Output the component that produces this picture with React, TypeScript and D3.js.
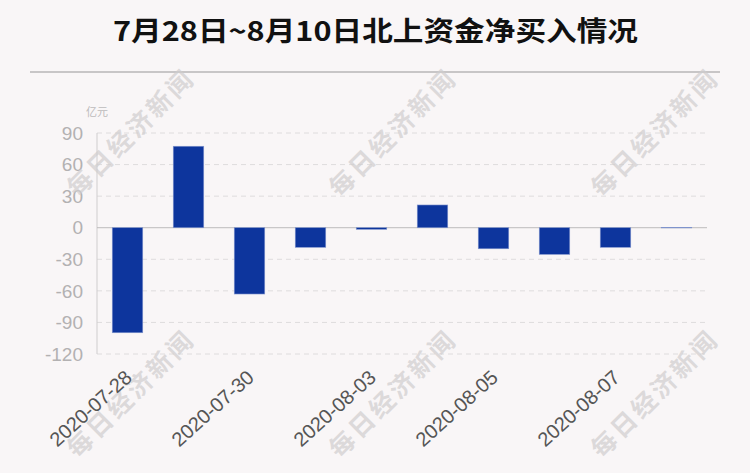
import React from "react";
import * as d3 from "d3";

const categories = [
  "2020-07-28", "2020-07-29", "2020-07-30", "2020-07-31", "2020-08-03",
  "2020-08-04", "2020-08-05", "2020-08-06", "2020-08-07", "2020-08-10",
];
const values = [-99.8, 77.4, -63.0, -18.6, -1.5, 21.6, -20.0, -25.3, -18.6, 0.3];
const yTicks = [90, 60, 30, 0, -30, -60, -90, -120];
const shownLabels = ["2020-07-28", "2020-07-30", "2020-08-03", "2020-08-05", "2020-08-07"];
const title = "7月28日~8月10日北上资金净买入情况";
const unit = "亿元";
const watermark = "每日经济新闻";
const wmX = [131, 393, 655];
const wmY = [133, 394];

const W = 750;
const H = 473;
const left = 97;
const right = 707;
const top = 133;
const bottom = 354;

export default function App() {
  const x = d3.scaleBand<string>().domain(categories).range([left, right]).paddingInner(0).paddingOuter(0);
  const y = d3.scaleLinear().domain([-120, 90]).range([bottom, top]);
  const bw = x.bandwidth() * 0.5;
  const font = "'Liberation Sans', Arial, sans-serif";
  const cjk = "'Noto Sans CJK SC', sans-serif";

  return (
    <svg width={W} height={H} style={{ position: "fixed", left: 0, top: 0, background: "#f9f6f7" }}>
      <rect x={0} y={0} width={W} height={H} fill="#f9f6f7" />
      <text x={375.5} y={41} textAnchor="middle" fontFamily={cjk} fontWeight={700} fontSize={27}
        textLength={525} lengthAdjust="spacingAndGlyphs" fill="#111">{title}</text>
      <line x1={30} x2={720} y1={72} y2={72} stroke="#c8c6c7" strokeWidth={2} />

      {/* gridlines */}
      {yTicks.filter(t => t !== 0).map(t => (
        <line key={"g" + t} x1={left} x2={right} y1={y(t)} y2={y(t)} stroke="#dedcdd" strokeWidth={1} strokeDasharray="5,4" />
      ))}
      <line x1={left} x2={left} y1={top} y2={bottom} stroke="#cfcdce" strokeWidth={1} />
      <line x1={left} x2={right} y1={y(0)} y2={y(0)} stroke="#bdbbbc" strokeWidth={1} />

      {/* y labels */}
      {yTicks.map(t => (
        <text key={"t" + t} x={83} y={y(t)} dy="0.35em" textAnchor="end" fontFamily={font} fontSize={19} fill="#b3b1b2">{t}</text>
      ))}
      <text x={97} y={112} dy="0.35em" textAnchor="middle" fontFamily={cjk} fontSize={11} fill="#bdbbbc">{unit}</text>

      {/* watermarks */}
      {wmX.flatMap(wx => wmY.map(wy => (
        <text key={`w${wx}-${wy}`} x={wx} y={wy} dy="0.35em" textAnchor="middle" fontFamily={cjk} fontWeight={700}
          fontSize={25} letterSpacing={3} fill="#cfcdce" fillOpacity={0.7} transform={`rotate(-45 ${wx} ${wy})`}>{watermark}</text>
      )))}

      {/* bars */}
      {categories.map((c, i) => {
        const v = values[i];
        const x0 = (x(c) as number) + (x.bandwidth() - bw) / 2;
        const y0 = Math.min(y(0), y(v));
        const h = Math.max(Math.abs(y(v) - y(0)), 0.5);
        return <rect key={c} x={x0} y={y0} width={bw} height={h} fill="#0d359d" stroke="#7f93cc" strokeWidth={0.6} />;
      })}

      {/* x labels */}
      {shownLabels.map(c => {
        const cx = (x(c) as number) + x.bandwidth() / 2 + 1;
        const cy = 374;
        return (
          <text key={"x" + c} x={cx} y={cy} dy="0.35em" textAnchor="end" fontFamily={font} fontSize={20} fill="#555"
            transform={`rotate(-42 ${cx} ${cy})`}>{c}</text>
        );
      })}
    </svg>
  );
}
